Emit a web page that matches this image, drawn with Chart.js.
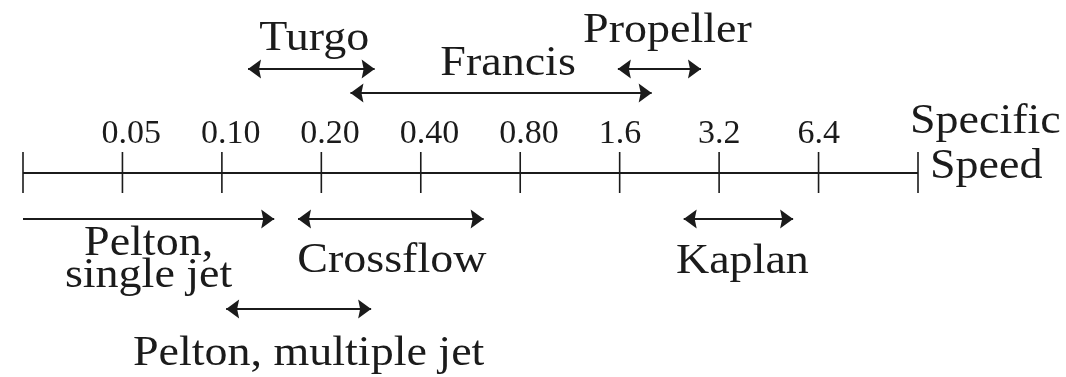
<!DOCTYPE html>
<html>
<head>
<meta charset="utf-8">
<script src="https://cdn.jsdelivr.net/npm/chart.js@4/dist/chart.umd.min.js"></script>
<style>
  html, body { margin: 0; padding: 0; background: #fff; }
  #wrap { width: 1066px; height: 377px; }
</style>
</head>
<body>
<div id="wrap"><canvas id="speedChart"></canvas></div>
<script>
// turbine types and the specific speed range each one covers
const turbines  = ['Turgo', 'Francis', 'Propeller', 'Pelton,\nsingle jet', 'Crossflow', 'Kaplan', 'Pelton, multiple jet'];
const rangeLow  = [0.12, 0.245, 1.58, 0.025, 0.17, 2.5, 0.103];
const rangeHigh = [0.29, 2.0, 2.82, 0.144, 0.62, 5.36, 0.283];
const twoHeads  = [true, true, true, false, true, true, true];

// specific speed axis, one tick per doubling
const tickValues = [0.025, 0.05, 0.1, 0.2, 0.4, 0.8, 1.6, 3.2, 6.4, 12.8];
const tickLabels = ['', '0.05', '0.10', '0.20', '0.40', '0.80', '1.6', '3.2', '6.4', ''];
const axisTitle  = ['Specific', 'Speed'];

// vertical layout (y runs 0..377 top to bottom), kept apart from the data
const AXIS_Y = 173;
const lanes = [
  { y: 69,  dx: 3,  base: 50 },
  { y: 93,  dx: 7,  base: 75 },
  { y: 69,  dx: 8,  base: 42 },
  { y: 219, dx: 0,  base: 255 },
  { y: 219, dx: 1,  base: 272 },
  { y: 219, dx: 4,  base: 273 },
  { y: 309, dx: 10, base: 365 }
];

const INK = '#1b1b1b';
const SERIF = '"Liberation Serif", "Times New Roman", serif';
const TEXT_STRETCH = 1.07;

function stretchedText(ctx, str, x, y, align) {
  ctx.save();
  ctx.translate(x, y);
  ctx.scale(TEXT_STRETCH, 1);
  ctx.textAlign = align;
  ctx.textBaseline = 'alphabetic';
  ctx.fillText(str, 0, 0);
  ctx.restore();
}

function arrowHead(ctx, x, y, dir) {
  const len = 13, half = 9.5, notch = 2;
  ctx.beginPath();
  ctx.moveTo(x, y);
  ctx.lineTo(x - dir * len, y - half);
  ctx.lineTo(x - dir * (len - notch), y);
  ctx.lineTo(x - dir * len, y + half);
  ctx.closePath();
  ctx.fill();
}

const diagram = {
  id: 'diagram',
  afterDatasetsDraw(chart) {
    const ctx = chart.ctx;
    const xs = chart.scales.x, ys = chart.scales.y;
    ctx.save();
    ctx.strokeStyle = INK;
    ctx.fillStyle = INK;

    // axis line with tick marks crossing it
    const ay = ys.getPixelForValue(AXIS_Y);
    ctx.lineWidth = 2;
    ctx.beginPath();
    ctx.moveTo(xs.getPixelForValue(tickValues[0]), ay);
    ctx.lineTo(xs.getPixelForValue(tickValues[tickValues.length - 1]), ay);
    ctx.stroke();
    ctx.lineWidth = 1.6;
    ctx.beginPath();
    tickValues.forEach(v => {
      const px = xs.getPixelForValue(v);
      ctx.moveTo(px, ay - 21);
      ctx.lineTo(px, ay + 20);
    });
    ctx.stroke();

    ctx.font = '34px ' + SERIF;
    ctx.textAlign = 'left';
    ctx.textBaseline = 'alphabetic';
    tickValues.forEach((v, i) => {
      if (tickLabels[i]) ctx.fillText(tickLabels[i], xs.getPixelForValue(v) - 21, ay - 30);
    });

    // axis title at the right end
    const endPx = xs.getPixelForValue(tickValues[tickValues.length - 1]);
    ctx.font = '43px ' + SERIF;
    stretchedText(ctx, axisTitle[0], endPx - 8, ay - 40, 'left');
    stretchedText(ctx, axisTitle[1], endPx + 12, ay + 5, 'left');

    // arrow heads and turbine names
    chart.data.datasets.forEach((ds, i) => {
      const pts = chart.getDatasetMeta(i).data;
      const p0 = pts[0], p1 = pts[1];
      arrowHead(ctx, p1.x, p1.y, 1);
      if (twoHeads[i]) arrowHead(ctx, p0.x, p0.y, -1);

      const cx = (p0.x + p1.x) / 2 + lanes[i].dx;
      ds.label.split('\n').forEach((line, k) => {
        stretchedText(ctx, line, cx, lanes[i].base + k * 32, 'center');
      });
    });
    ctx.restore();
  }
};

const ctx = document.getElementById('speedChart').getContext('2d');
new Chart(ctx, {
  type: 'scatter',
  data: {
    datasets: turbines.map((name, i) => ({
      label: name,
      data: [{ x: rangeLow[i], y: lanes[i].y }, { x: rangeHigh[i], y: lanes[i].y }],
      showLine: true,
      borderColor: INK,
      borderWidth: 1.8,
      pointRadius: 0
    }))
  },
  options: {
    responsive: true,
    maintainAspectRatio: false,
    animation: false,
    events: [],
    layout: { padding: { left: 23, right: 148, top: 0, bottom: 0 } },
    plugins: {
      legend: { display: false },
      tooltip: { enabled: false }
    },
    scales: {
      x: {
        type: 'logarithmic',
        min: tickValues[0],
        max: tickValues[tickValues.length - 1],
        bounds: 'data',
        display: false
      },
      y: {
        type: 'linear',
        min: 0,
        max: 377,
        reverse: true,
        display: false
      }
    }
  },
  plugins: [diagram]
});
</script>
</body>
</html>
